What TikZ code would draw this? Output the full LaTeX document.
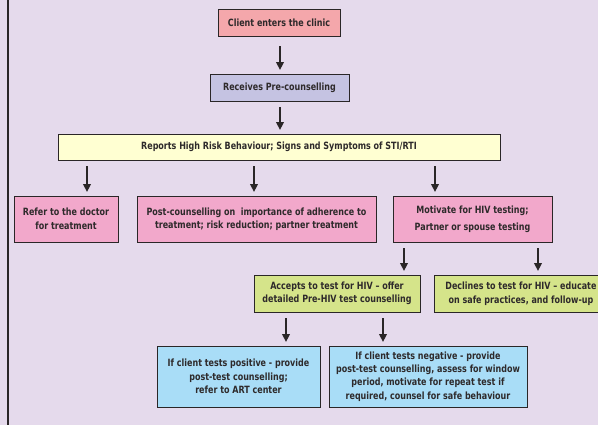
\documentclass[tikz,border=0pt]{standalone}
\usepackage{fontspec}
\setmainfont{DejaVu Sans}[FakeStretch=0.8]
\usetikzlibrary{arrows.meta}
\definecolor{bg}{HTML}{E5DAEC}
\definecolor{edge}{HTML}{2A2627}
\definecolor{txt}{HTML}{2E2A2B}
\definecolor{cRed}{HTML}{F4A7AB}
\definecolor{cLav}{HTML}{C5C3E2}
\definecolor{cYel}{HTML}{FFFFD2}
\definecolor{cPink}{HTML}{F2A8CB}
\definecolor{cGreen}{HTML}{D5E48A}
\definecolor{cBlue}{HTML}{A9DDF7}
\begin{document}
\begin{tikzpicture}[x=1pt,y=-1pt,
  box/.style={draw=edge, line width=0.9pt, inner sep=0pt, align=center,
    font=\bfseries\fontsize{10}{13.5}\selectfont, text=txt},
  arr/.style={-{Triangle[width=7.5pt,length=8pt]}, line width=2.4pt, draw=edge,
    shorten <=6pt, shorten >=3.5pt}]
\fill[bg] (0,0) rectangle (598,425);
\useasboundingbox (0,0) rectangle (598,425);
\clip (0,0) rectangle (598,425);
\draw[edge, line width=2.5pt] (8,-5) -- (8,430);

\node[box, fill=cRed, minimum width=122pt, minimum height=27pt] (client) at (279,22.5) {Client enters the clinic};
\node[box, fill=cLav, minimum width=139pt, minimum height=27pt] (receives) at (279.5,87.5) {Receives Pre-counselling};
\node[box, fill=cYel, minimum width=442pt, minimum height=26pt] (reports) at (279,147) {Reports High Risk Behaviour; Signs and Symptoms of STI/RTI};
\node[box, fill=cPink, minimum width=104pt, minimum height=46pt] (refer) at (66,219) {Refer to the doctor\\for treatment};
\node[box, fill=cPink, minimum width=239pt, minimum height=46pt] (post) at (256.5,219) {Post-counselling on\ \ importance of adherence to\\treatment; risk reduction; partner treatment};
\node[box, fill=cPink, minimum width=159pt, minimum height=46pt, font=\bfseries\fontsize{10}{17}\selectfont] (motivate) at (472.5,219) {Motivate for HIV testing;\\Partner or spouse testing};
\node[box, fill=cGreen, minimum width=166pt, minimum height=37pt] (accepts) at (337,293.5) {Accepts to test for HIV – offer\\detailed Pre-HIV test counselling};
\node[box, fill=cGreen, minimum width=173pt, minimum height=37pt, anchor=west] (declines) at (434,293.5) {Declines to test for HIV – educate\\on safe practices, and follow-up};
\node[box, fill=cBlue, minimum width=163pt, minimum height=61pt] (positive) at (238.5,376.5) {If client tests positive - provide\\post-test counselling;\\refer to ART center};
\node[box, fill=cBlue, minimum width=198pt, minimum height=61pt, font=\bfseries\fontsize{10}{13.3}\selectfont] (negative) at (428,376.5) {If client tests negative - provide\\post-test counselling, assess for window\\period, motivate for repeat test if\\required, counsel for safe behaviour};

\coordinate (xm) at (280,0);
\coordinate (xa) at (87,0);
\coordinate (xb) at (254,0);
\coordinate (xc) at (435,0);
\coordinate (xd) at (404,0);
\coordinate (xe) at (538,0);
\coordinate (xf) at (286,0);
\coordinate (xg) at (383,0);

\draw[arr, shorten <=10pt] (client.south -| xm) -- (receives.north -| xm);
\draw[arr] (receives.south -| xm) -- (reports.north -| xm);
\draw[arr] (reports.south -| xa) -- (refer.north -| xa);
\draw[arr] (reports.south -| xb) -- (post.north -| xb);
\draw[arr] (reports.south -| xc) -- (motivate.north -| xc);
\draw[arr] (motivate.south -| xd) -- (accepts.north -| xd);
\draw[arr] (motivate.south -| xe) -- (declines.north -| xe);
\draw[arr] (accepts.south -| xf) -- (positive.north -| xf);
\draw[arr] (accepts.south -| xg) -- (negative.north -| xg);
\end{tikzpicture}
\end{document}
